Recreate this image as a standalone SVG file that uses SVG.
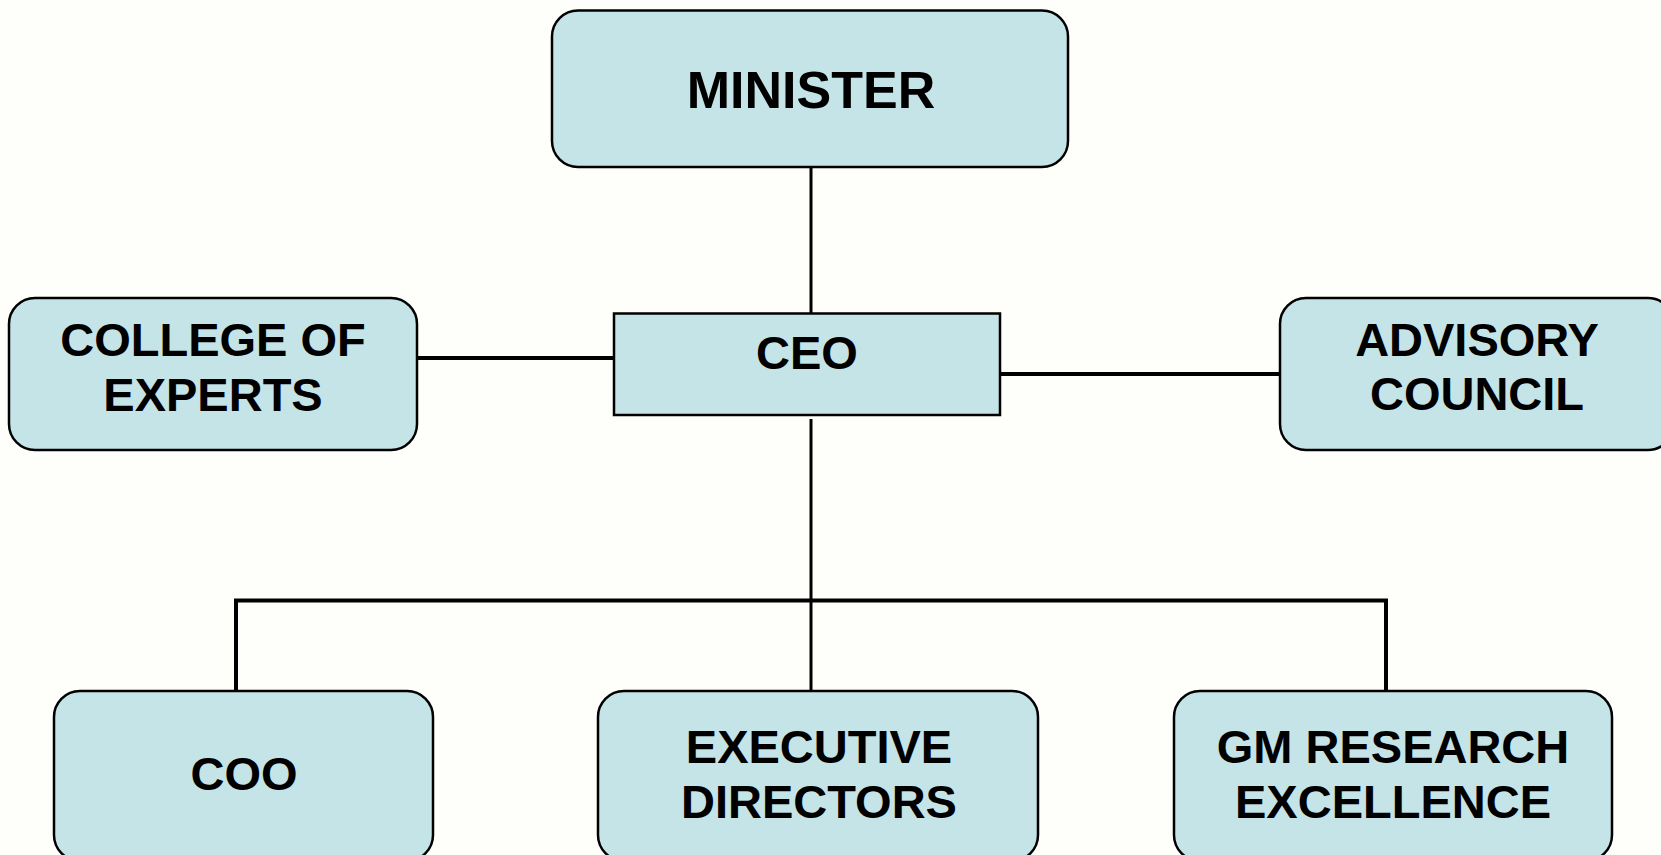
<svg xmlns="http://www.w3.org/2000/svg" width="1661" height="855" viewBox="0 0 1661 855">
<style>
.box{fill:#C5E4E8;stroke:#000;stroke-width:2.5}
.t{font-family:"Liberation Sans",Arial,sans-serif;font-weight:bold;font-size:47px;fill:#000;text-anchor:middle}
.c{stroke:#000;fill:none}
</style>
<rect width="1661" height="855" fill="#FEFFFA"/>
<g id="connectors">
<line class="c" x1="811" y1="167" x2="811" y2="313" stroke-width="3"/>
<line class="c" x1="811" y1="419" x2="811" y2="691" stroke-width="3"/>
<line class="c" x1="417" y1="358" x2="614" y2="358" stroke-width="4"/>
<line class="c" x1="1000" y1="374" x2="1280" y2="374" stroke-width="4"/>
<polyline class="c" points="236,691 236,600.5 1386,600.5 1386,691" stroke-width="4"/>
</g>
<g id="minister">
<rect class="box" x="552" y="10.5" width="516" height="156.5" rx="26"/>
<text class="t" x="811" y="108" style="font-size:52px">MINISTER</text>
</g>
<g id="ceo">
<rect class="box" x="614" y="313.5" width="386" height="101.5" stroke-width="3"/>
<text class="t" x="807" y="369">CEO</text>
</g>
<g id="college">
<rect class="box" x="9" y="298" width="408" height="152" rx="26"/>
<text class="t" x="213" y="356">COLLEGE OF</text>
<text class="t" x="213" y="411">EXPERTS</text>
</g>
<g id="advisory">
<rect class="box" x="1280" y="298" width="394" height="152" rx="26"/>
<text class="t" x="1477" y="356">ADVISORY</text>
<text class="t" x="1477" y="410">COUNCIL</text>
</g>
<g id="coo">
<rect class="box" x="54" y="691" width="379" height="170" rx="26"/>
<text class="t" x="244" y="790">COO</text>
</g>
<g id="exec">
<rect class="box" x="598" y="691" width="440" height="170" rx="26"/>
<text class="t" x="819" y="763">EXECUTIVE</text>
<text class="t" x="819" y="818">DIRECTORS</text>
</g>
<g id="gm">
<rect class="box" x="1174" y="691" width="438" height="170" rx="26"/>
<text class="t" x="1393" y="763">GM RESEARCH</text>
<text class="t" x="1393" y="818">EXCELLENCE</text>
</g>
</svg>
